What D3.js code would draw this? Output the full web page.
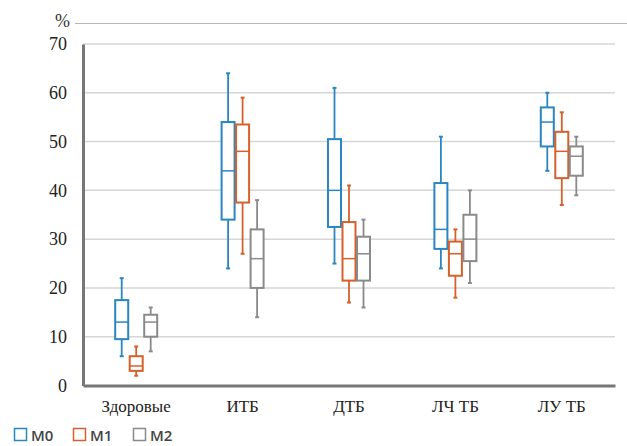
<!DOCTYPE html>
<html>
<head>
<meta charset="utf-8">
<script src="https://cdn.jsdelivr.net/npm/d3@7"></script>
</head>
<body style="margin:0">
<script>
// chart values
const categories = ["Здоровые", "ИТБ", "ДТБ", "ЛЧ ТБ", "ЛУ ТБ"];
const series = ["M0", "M1", "M2"];
const yTicks = [0, 10, 20, 30, 40, 50, 60, 70];

// [min, q1, median, q3, max] per category
const m0 = [[6, 9.5, 13, 17.5, 22], [24, 34, 44, 54, 64], [25, 32.5, 40, 50.5, 61], [24, 28, 32, 41.5, 51], [44, 49, 54, 57, 60]];
const m1 = [[2, 3, 4, 6, 8], [27, 37.5, 48, 53.5, 59], [17, 21.5, 26, 33.5, 41], [18, 22.5, 27, 29.5, 32], [37, 42.5, 48, 52, 56]];
const m2 = [[7, 10, 13, 14.5, 16], [14, 20, 26, 32, 38], [16, 21.5, 27, 30.5, 34], [21, 25.5, 30, 35, 40], [39, 43, 47, 49, 51]];

const colors = ["#2a86c0", "#d6602c", "#8a8a8a"];
const serifFont = ["Liberation Serif", "Tinos"].map(f => "'" + f + "'").join(", ") + ", serif";

const svg = d3.select("body").append("svg")
    .attr("width", 627)
    .attr("height", 446)
    .style("display", "block");

const x = d3.scaleBand().domain(categories).range([83, 615]);
const xs = d3.scaleBand().domain(series).range([0, 43.5]);
const y = d3.scaleLinear().domain([0, 70]).range([385.5, 44]);

// top rule with % label
svg.append("line")
    .attr("x1", 75).attr("x2", 627)
    .attr("y1", 23.5).attr("y2", 23.5)
    .attr("stroke", "#b5b5b5");

svg.append("text")
    .attr("x", 70).attr("y", 27)
    .attr("text-anchor", "end")
    .style("font-family", serifFont)
    .style("font-size", "18px")
    .style("fill", "#333")
    .text("%");

// gridlines
svg.append("g")
    .selectAll("line")
    .data(yTicks.filter(d => d > 0))
    .join("line")
    .attr("x1", 83).attr("x2", 615)
    .attr("y1", d => y(d)).attr("y2", d => y(d))
    .attr("stroke", "#d6d6d6").attr("stroke-width", 1.5);

// axes
const yAxis = svg.append("g")
    .attr("transform", "translate(83,0)")
    .call(d3.axisLeft(y).tickValues(yTicks).tickSize(0).tickPadding(16));
yAxis.select(".domain").attr("stroke", "#777").attr("stroke-width", 3);
yAxis.selectAll(".tick text")
    .style("font-family", serifFont)
    .style("font-size", "18px")
    .style("fill", "#222");

const xAxis = svg.append("g")
    .attr("transform", "translate(0,385.5)")
    .call(d3.axisBottom(x).tickSize(0).tickPadding(14));
xAxis.select(".domain").attr("stroke", "#777").attr("stroke-width", 3);
xAxis.selectAll(".tick text")
    .style("font-family", serifFont)
    .style("font-size", "17px")
    .style("fill", "#222");

// box plots
const bw = 13;
[m0, m1, m2].forEach(function(data, si) {
    const col = colors[si];
    const g = svg.append("g").attr("stroke", col);
    data.forEach(function(d, ci) {
        const cx = x(categories[ci]) + x.bandwidth() / 2 - 21.75 + xs(series[si]) + xs.bandwidth() / 2;
        g.append("line")
            .attr("x1", cx).attr("x2", cx)
            .attr("y1", y(d[0])).attr("y2", y(d[4]))
            .attr("stroke-width", 1.8);
        [d[0], d[4]].forEach(function(v) {
            g.append("line")
                .attr("x1", cx - 2).attr("x2", cx + 2)
                .attr("y1", y(v)).attr("y2", y(v))
                .attr("stroke-width", 2);
        });
        g.append("rect")
            .attr("x", cx - bw / 2)
            .attr("y", y(d[3]))
            .attr("width", bw)
            .attr("height", y(d[1]) - y(d[3]))
            .attr("fill", "#fff")
            .attr("stroke-width", 2);
        g.append("line")
            .attr("x1", cx - bw / 2).attr("x2", cx + bw / 2)
            .attr("y1", y(d[2])).attr("y2", y(d[2]))
            .attr("stroke-width", 1.5);
    });
});

// legend
const legX = [14, 73, 133];
const legend = svg.append("g")
    .selectAll("g")
    .data(series)
    .join("g")
    .attr("transform", (d, i) => `translate(${legX[i]},428)`);
legend.append("rect")
    .attr("x", 0.5).attr("y", 0.5)
    .attr("width", 12).attr("height", 12)
    .attr("fill", "#fff")
    .attr("stroke", (d, i) => colors[i])
    .attr("stroke-width", 1.5);
legend.append("text")
    .attr("x", 17).attr("y", 12.5)
    .style("font-family", "'Open Sans', sans-serif")
    .style("font-size", "15px")
    .style("font-weight", "600")
    .style("fill", "#444")
    .text(d => d);
</script>
</body>
</html>
